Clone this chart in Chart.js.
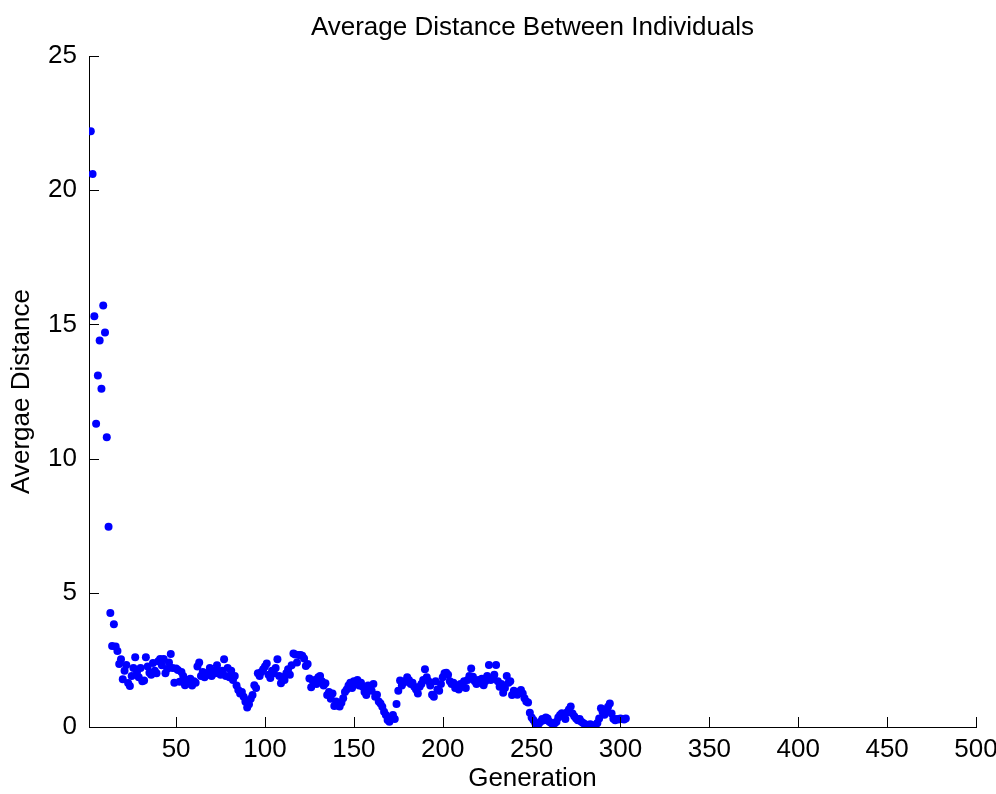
<!DOCTYPE html>
<html>
<head>
<meta charset="utf-8">
<title>Average Distance Between Individuals</title>
<script src="https://cdn.jsdelivr.net/npm/chart.js@4/dist/chart.umd.min.js"></script>
<style>
    body { margin: 0; background: #fff; }
    #wrap { width: 996px; height: 794px; }
</style>
</head>
<body>
<div id="wrap"><canvas id="distChart" width="996" height="794"></canvas></div>
<script>
// first generation plotted, then one value per generation
const firstGen = 2;
const avgDistance = [
    22.2, 20.6, 15.3, 11.3, 13.1, 14.4, 12.6, 15.7, 14.7, 10.8,
    7.46, 4.25, 3.02, 3.83, 3.0, 2.83, 2.35, 2.52, 1.78, 2.1,
    2.31, 1.64, 1.53, 1.9, 2.2, 2.6, 2.05, 1.85, 2.2, 1.7,
    1.73, 2.6, 2.25, 2.02, 1.95, 2.38, 2.1, 2.0, 2.45, 2.53,
    2.3, 2.53, 2.0, 2.16, 2.4, 2.72, 2.2, 1.65, 2.18, 2.12,
    1.69, 2.05, 1.9, 1.56, 1.75, 1.62, 1.8, 1.55, 1.7, 1.65,
    2.25, 2.4, 1.9, 2.05, 1.85, 2.0, 1.95, 2.2, 1.9, 2.1,
    2.0, 2.3, 2.05, 1.95, 2.1, 2.52, 1.9, 2.2, 1.85, 2.1,
    1.75, 1.9, 1.55, 1.38, 1.25, 1.3, 1.13, 0.94, 0.73, 0.85,
    1.05, 1.19, 1.56, 1.45, 2.0, 1.9, 2.05, 2.15, 2.25, 2.37,
    1.95, 1.83, 2.1, 2.0, 2.2, 2.52, 1.9, 1.63, 1.85, 1.75,
    2.0, 2.15, 1.95, 2.3, 2.74, 2.7, 2.4, 2.68, 2.68, 2.65,
    2.55, 2.27, 2.35, 1.81, 1.48, 1.7, 1.75, 1.6, 1.85, 1.9,
    1.7, 1.55, 1.63, 1.19, 1.3, 1.05, 1.25, 0.78, 0.95, 0.8,
    0.76, 0.9, 1.07, 1.3, 1.4, 1.55, 1.65, 1.45, 1.7, 1.6,
    1.75, 1.55, 1.65, 1.5, 1.3, 1.19, 1.55, 1.4, 1.35, 1.6,
    1.13, 1.2, 0.95, 0.88, 0.75, 0.57, 0.45, 0.26, 0.2, 0.35,
    0.45, 0.3, 0.86, 1.35, 1.73, 1.55, 1.65, 1.7, 1.85, 1.75,
    1.6, 1.65, 1.5, 1.4, 1.25, 1.5, 1.6, 1.75, 2.15, 1.85,
    1.7, 1.55, 1.2, 1.13, 1.7, 1.4, 1.35, 1.6, 1.85, 2.0,
    2.02, 1.95, 1.7, 1.6, 1.65, 1.45, 1.55, 1.4, 1.6, 1.5,
    1.7, 1.45, 1.75, 1.9, 2.18, 1.87, 1.7, 1.6, 1.75, 1.65,
    1.8, 1.56, 1.7, 1.9, 2.31, 1.75, 1.81, 1.95, 2.31, 1.7,
    1.5, 1.6, 1.28, 1.45, 1.9, 1.65, 1.7, 1.19, 1.35, 1.3,
    1.2, 1.3, 1.38, 1.25, 1.07, 0.95, 0.91, 0.53, 0.35, 0.26,
    0.15, 0.07, 0.12, 0.2, 0.3, 0.25, 0.35, 0.32, 0.2, 0.15,
    0.1, 0.14, 0.2, 0.35, 0.45, 0.51, 0.4, 0.3, 0.55, 0.65,
    0.76, 0.5, 0.4, 0.32, 0.25, 0.3, 0.2, 0.15, 0.1, 0.08,
    0.04, 0.1, 0.06, 0.05, 0.07, 0.15, 0.32, 0.7, 0.55, 0.46,
    0.65, 0.75, 0.88, 0.5, 0.31, 0.25, 0.3, 0.28, 0.32, 0.3,
    0.28, 0.32
];
const xTicks = [50, 100, 150, 200, 250, 300, 350, 400, 450, 500];
const yTicks = [0, 5, 10, 15, 20, 25];
const chartTitle = 'Average Distance Between Individuals';

const FONT = "'Liberation Sans', Arial, sans-serif";

// matlab style: tick marks point into the plot, title centred over the axes
const axesExtras = {
    id: 'axesExtras',
    afterDraw(chart) {
        const { ctx, chartArea, scales } = chart;
        ctx.save();
        ctx.strokeStyle = '#000';
        ctx.lineWidth = 1;
        ctx.beginPath();
        xTicks.forEach(v => {
            const px = Math.round(scales.x.getPixelForValue(v)) + 0.5;
            ctx.moveTo(px, chartArea.bottom);
            ctx.lineTo(px, chartArea.bottom - 10);
        });
        yTicks.forEach(v => {
            const py = Math.round(scales.y.getPixelForValue(v)) + 0.5;
            ctx.moveTo(chartArea.left, py);
            ctx.lineTo(chartArea.left + 10, py);
        });
        ctx.stroke();

        ctx.fillStyle = '#000';
        ctx.font = '26px ' + FONT;
        ctx.textAlign = 'center';
        ctx.textBaseline = 'middle';
        ctx.fillText(chartTitle, (chartArea.left + chartArea.right) / 2, 28);
        ctx.restore();
    }
};

const points = avgDistance.map((v, i) => ({ x: firstGen + i, y: v }));

new Chart(document.getElementById('distChart'), {
    type: 'scatter',
    data: {
        datasets: [{
            label: 'Average distance',
            data: points,
            backgroundColor: '#0000ff',
            borderWidth: 0,
            pointRadius: 4,
            pointHoverRadius: 4
        }]
    },
    options: {
        responsive: false,
        animation: false,
        layout: { padding: { left: 0, right: 20, top: 56, bottom: 0 } },
        plugins: {
            legend: { display: false },
            tooltip: { enabled: false },
            title: { display: false }
        },
        scales: {
            x: {
                type: 'linear',
                min: 1,
                max: 500,
                afterBuildTicks: axis => { axis.ticks = xTicks.map(v => ({ value: v })); },
                afterFit: scale => { scale.height = 67; scale.paddingLeft = 0; scale.paddingRight = 0; },
                grid: { display: true, drawOnChartArea: false, drawTicks: false },
                border: { display: true, color: '#000', width: 1 },
                ticks: { color: '#000', font: { family: FONT, size: 26 }, padding: 7, maxRotation: 0 },
                title: {
                    display: true,
                    text: 'Generation',
                    color: '#000',
                    font: { family: FONT, size: 26 },
                    padding: { top: 0, bottom: 0 }
                }
            },
            y: {
                type: 'linear',
                min: 0,
                max: 25,
                afterBuildTicks: axis => { axis.ticks = yTicks.map(v => ({ value: v })); },
                afterFit: scale => { scale.width = 89; scale.paddingTop = 0; scale.paddingBottom = 0; },
                grid: { display: true, drawOnChartArea: false, drawTicks: false },
                border: { display: true, color: '#000', width: 1 },
                ticks: { color: '#000', font: { family: FONT, size: 26 }, padding: 12 },
                title: {
                    display: true,
                    text: 'Avergae Distance',
                    color: '#000',
                    font: { family: FONT, size: 26 },
                    padding: { top: 6, bottom: 0 }
                }
            }
        }
    },
    plugins: [axesExtras]
});
</script>
</body>
</html>
